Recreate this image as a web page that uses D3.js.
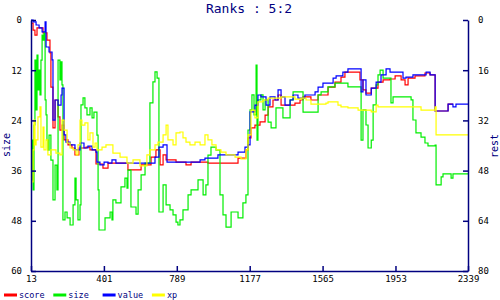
<!DOCTYPE html>
<html lang="en">
<head>
<meta charset="UTF-8">
<title>Ranks : 5:2</title>
<script src="https://d3js.org/d3.v7.min.js"></script>
<style>
    body { margin: 0; background: #fff; }
    svg { display: block; }
    .title { font: 13px "DejaVu Sans Mono", monospace; fill: #000080; }
    .axis text { font: 9px "DejaVu Sans Mono", monospace; fill: #000; }
    .axis path, .axis line { stroke: #000080; stroke-width: 1.5; }
    .atitle { font: 10px "DejaVu Sans Mono", monospace; fill: #000080; }
    .legend text { font: 8.5px "DejaVu Sans Mono", monospace; fill: #000080; }
</style>
</head>
<body>
<svg id="chart" width="500" height="300"></svg>
<script>
// ---- data ----
const xTicks = [13, 401, 789, 1177, 1565, 1953, 2339];
const leftTicks = [0, 12, 24, 36, 48, 60];
const rightTicks = [0, 16, 32, 48, 64, 80];

// score (right axis)
const scoreX = [13,24,34,45,77,98,114,119,130,141,157,167,178,189,210,231,247,268,306,327,359,396,423,529,599,652,678,700,716,732,785,838,865,955,1115,1157,1168,1184,1205,1232,1259,1275,1301,1328,1344,1418,1445,1461,1503,1541,1594,1631,1663,1684,1764,1780,1796,1824,1860,1887,1924,1951,1983,2004,2020,2057,2110,2137,2164,2233,2259];
const scoreY = [1.0,3.2,4.8,2.5,4.1,6.4,10.5,21.4,34.4,25.5,30.9,35.1,33.5,38.2,39.8,40.8,43.0,40.8,40.5,41.4,45.9,47.2,45.6,47.8,46.2,43.7,41.4,46.2,43.0,44.6,45.3,46.2,45.3,45.6,44.0,41.4,37.6,34.4,33.5,32.5,30.3,27.7,25.5,23.9,27.1,26.5,25.5,24.5,25.5,23.9,21.4,19.8,18.2,16.6,19.1,22.3,23.3,21.7,19.8,19.1,18.8,17.8,19.1,20.7,18.5,17.8,16.9,17.5,29.0,26.8,26.8];

// size (left axis)
const sizeX = [13,18,24,29,34,40,45,50,56,61,66,72,77,82,88,93,98,103,109,119,130,141,151,157,167,173,178,183,194,205,221,237,247,253,263,274,279,290,300,311,327,338,348,364,370,375,407,434,444,449,465,492,513,524,529,545,572,583,599,620,646,662,673,684,694,716,732,753,769,785,795,806,822,849,865,902,929,944,955,971,998,1019,1035,1051,1078,1115,1141,1157,1168,1179,1189,1200,1211,1216,1221,1237,1248,1259,1275,1291,1317,1338,1354,1392,1408,1461,1487,1541,1557,1594,1631,1700,1770,1780,1796,1807,1824,1834,1850,1860,1871,1887,1913,1929,1940,1967,2036,2046,2062,2089,2110,2126,2164,2169,2196,2206,2249,2259,2339];
const sizeY = [38.2,28.7,40.6,25.1,9.6,21.5,8.4,16.7,12.0,17.9,9.6,3.6,4.8,3.1,19.1,22.7,28.7,31.1,27.5,33.5,43.0,34.7,40.6,9.6,14.3,10.0,15.5,47.8,45.9,47.3,49.0,44.2,37.8,43.0,47.8,44.2,20.3,18.6,21.0,22.7,21.0,23.4,22.0,27.5,40.6,50.2,47.3,45.9,47.8,43.0,43.7,39.9,37.8,40.2,35.9,44.7,46.4,40.6,37.0,34.2,19.8,14.8,12.4,13.9,45.9,39.4,44.2,45.4,46.6,48.3,49.0,47.8,45.4,41.8,40.6,38.2,41.8,39.4,32.3,30.4,31.1,41.8,46.6,49.5,45.9,47.3,43.7,41.8,26.3,21.5,17.9,22.7,10.8,28.7,19.1,17.9,21.5,19.1,24.4,25.8,21.0,21.0,23.4,19.1,17.2,22.0,22.0,17.9,17.2,16.0,15.1,16.0,28.7,21.5,25.1,30.6,28.7,20.3,15.5,13.1,12.0,13.9,13.9,19.8,18.4,18.4,19.1,23.9,27.0,28.0,29.4,30.1,29.9,39.4,37.5,36.8,37.8,36.8,36.8];

// value (right axis)
const valueX = [13,24,40,56,72,88,93,109,125,130,141,157,173,178,189,199,221,247,274,295,316,338,359,364,380,402,423,444,465,673,694,716,737,913,939,1008,1115,1152,1168,1179,1205,1221,1237,1264,1285,1312,1328,1344,1365,1392,1408,1434,1471,1525,1541,1567,1621,1637,1673,1700,1770,1780,1796,1824,1850,1876,1903,1924,1993,2009,2046,2116,2137,2164,2233,2259,2275,2339];
const valueY = [0,0.6,1.6,2.5,3.8,0.6,8.6,10.2,12.7,31.9,25.5,27.1,23.9,21.7,36.6,38.9,39.8,41.4,39.2,40.8,40.2,41.4,42.1,45.3,46.2,45.3,45.6,44.6,45.6,43.7,40.5,39.8,45.3,44.6,44.0,43.0,42.1,40.5,39.8,29.3,27.1,23.9,24.5,27.1,24.5,25.5,22.3,24.5,27.1,25.5,23.9,24.9,23.9,22.9,21.4,20.1,18.5,17.8,16.6,15.6,22.9,19.1,23.9,21.7,19.8,17.5,15.6,16.6,18.5,18.2,17.5,16.6,17.5,29.0,26.8,27.7,26.8,26.8];

// xp (right axis)
const xpX = [13,24,29,34,40,50,61,66,77,82,93,103,119,146,167,178,189,205,221,237,253,263,274,284,300,316,327,343,354,364,391,412,449,487,524,556,593,630,646,673,689,716,732,742,769,785,806,822,838,859,886,913,939,955,976,998,1024,1051,1099,1131,1157,1168,1184,1205,1221,1248,1275,1344,1418,1450,1477,1503,1583,1594,1647,1663,1700,1754,1824,1850,1860,1977,2089,2164,2169,2339];
const xpY = [51.6,41.4,31.9,39.8,38.2,30.9,27.7,40.5,34.1,41.4,38.2,43.0,41.4,42.4,43.0,31.9,35.1,39.2,40.8,41.4,43.0,39.8,31.9,33.5,32.8,38.2,36.0,40.5,39.2,41.4,40.5,39.8,42.4,43.7,45.6,44.6,46.5,43.0,41.4,39.8,38.9,36.6,33.5,38.2,39.8,36.0,35.7,37.6,38.9,39.8,38.9,39.8,36.6,38.2,39.8,41.4,42.1,43.0,43.7,44.3,41.4,36.6,28.7,31.2,26.1,25.5,24.9,24.5,25.2,24.9,25.5,26.8,26.5,26.1,27.1,27.7,28.0,28.7,29.3,27.1,27.7,27.7,28.7,27.7,36.6,36.6];

// ---- chart ----
const svg = d3.select("#chart");
const plotL = 31, plotR = 468, plotT = 20, plotB = 271;

const x = d3.scaleLinear().domain([13, 2339]).range([plotL, plotR]);
const yL = d3.scaleLinear().domain([0, 60]).range([plotT, plotB]);
const yR = d3.scaleLinear().domain([0, 80]).range([plotT, plotB]);

svg.append("text").attr("class", "title")
    .attr("x", 249).attr("y", 13).attr("text-anchor", "middle")
    .text("Ranks : 5:2");

const series = [
    {name: "score", color: "#ff0000", xs: scoreX, ys: scoreY, y: yR},
    {name: "size",  color: "#00ee00", xs: sizeX,  ys: sizeY,  y: yL},
    {name: "value", color: "#0000ff", xs: valueX, ys: valueY, y: yR},
    {name: "xp",    color: "#ffff00", xs: xpX,    ys: xpY,    y: yR}
];

series.forEach(s => {
    const pts = s.xs.map((v, i) => [v, s.ys[i]]);
    const line = d3.line()
        .x(d => x(d[0]))
        .y(d => s.y(d[1]))
        .curve(d3.curveStepAfter);
    svg.append("path")
        .attr("d", line(pts))
        .attr("fill", "none")
        .attr("stroke", s.color)
        .attr("stroke-width", 1.2);
});

// axes, ticks point inward
const fmt = d3.format("d");
svg.append("g").attr("class", "axis")
    .attr("transform", "translate(0," + plotB + ")")
    .call(d3.axisBottom(x).tickValues(xTicks).tickFormat(fmt).tickSizeInner(-5).tickSizeOuter(0).tickPadding(5));

svg.append("g").attr("class", "axis")
    .attr("transform", "translate(" + plotL + ",0)")
    .call(d3.axisLeft(yL).tickValues(leftTicks).tickFormat(fmt).tickSizeInner(-5).tickSizeOuter(0).tickPadding(9));

svg.append("g").attr("class", "axis")
    .attr("transform", "translate(" + plotR + ",0)")
    .call(d3.axisRight(yR).tickValues(rightTicks).tickFormat(fmt).tickSizeInner(-5).tickSizeOuter(0).tickPadding(10));

svg.append("text").attr("class", "atitle")
    .attr("transform", "translate(10,145) rotate(-90)")
    .attr("text-anchor", "middle").text("size");

svg.append("text").attr("class", "atitle")
    .attr("transform", "translate(498,146) rotate(-90)")
    .attr("text-anchor", "middle").text("rest");

// legend
const legend = svg.append("g").attr("class", "legend");
series.forEach((s, i) => {
    const lx = 4 + i * 49.3;
    legend.append("line")
        .attr("x1", lx).attr("x2", lx + 13)
        .attr("y1", 295).attr("y2", 295)
        .attr("stroke", s.color).attr("stroke-width", 3);
    legend.append("text")
        .attr("x", lx + 15).attr("y", 298)
        .text(s.name);
});
</script>
</body>
</html>
